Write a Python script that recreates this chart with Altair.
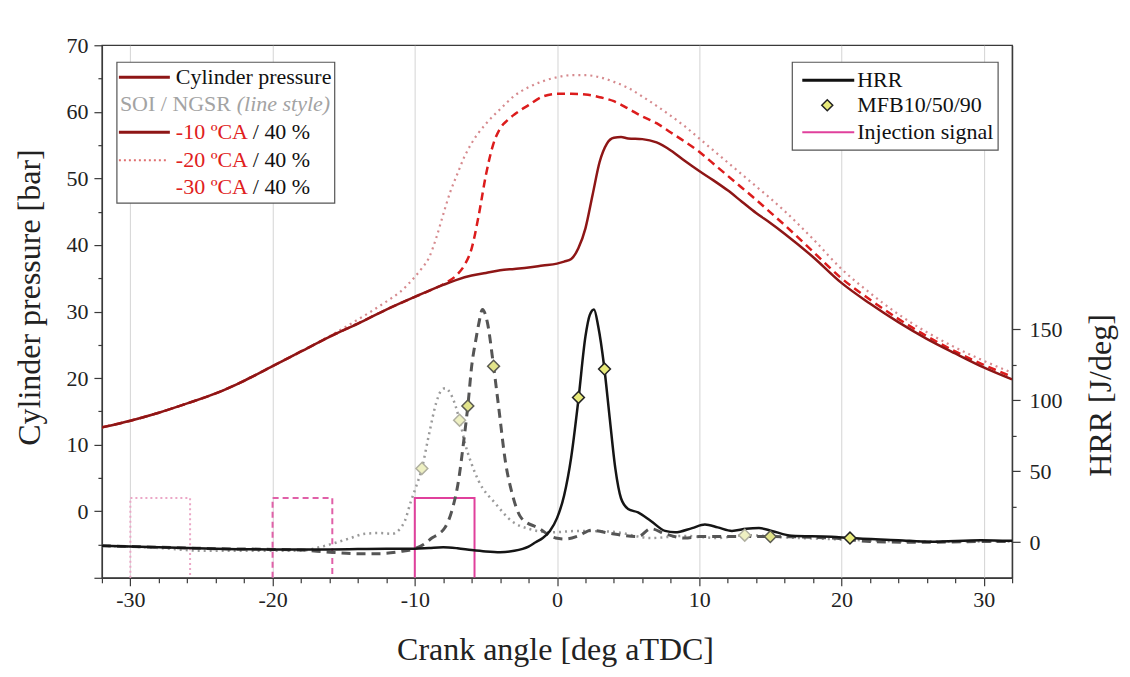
import altair as alt
import pandas as pd

# ---------------- data ----------------
# Cylinder pressure [bar], SOI -10 (solid dark red)
x_p10 = [-32, -30, -28, -26, -24, -22, -20, -18, -16, -14, -12, -10, -8, -7, -6, -5, -4, -3, -2, -1, 0,
         0.5, 1.0, 1.5, 2.0, 2.5, 3.0, 3.5, 4.0, 4.5, 5, 6, 7, 8, 9, 10, 11, 12, 13, 14, 15, 16, 18, 20,
         22, 24, 26, 28, 30, 32]
p10 = [12.6, 13.6, 14.8, 16.2, 17.7, 19.6, 21.8, 24.0, 26.2, 28.2, 30.3, 32.2, 34.0, 34.8, 35.4, 35.8,
       36.2, 36.4, 36.6, 36.9, 37.2, 37.5, 37.9, 39.5, 42.5, 47.5, 52.5, 55.2, 56.1, 56.2, 56.0, 55.9,
       55.4, 54.2, 52.6, 51.1, 49.7, 48.2, 46.5, 44.8, 43.3, 41.7, 38.2, 34.3, 31.2, 28.4, 25.9, 23.7,
       21.6, 19.8]

# SOI -20 (dashed red)
x_p20 = [-32, -30, -28, -26, -24, -22, -20, -18, -16, -14, -12, -10, -9, -8, -7, -6.5, -6, -5.5, -5,
         -4.5, -4, -3.5, -3, -2, -1, 0, 1, 2, 3, 4, 5, 6, 7, 8, 9, 10, 11, 12, 13, 14, 15, 16, 18, 20,
         22, 24, 26, 28, 30, 32]
p20 = [12.6, 13.6, 14.8, 16.2, 17.7, 19.6, 21.8, 24.0, 26.2, 28.2, 30.3, 32.2, 33.1, 34.1, 35.6, 37.0,
       39.5, 44.5, 50.5, 55.0, 57.5, 58.7, 59.6, 61.0, 62.3, 62.7, 62.7, 62.6, 62.2, 61.6, 60.5, 59.3,
       58.3, 56.9, 55.5, 54.0, 52.2, 50.4, 48.6, 46.8, 44.9, 43.0, 39.0, 35.0, 31.8, 28.9, 26.3, 24.0,
       22.0, 20.2]

# SOI -30 (dotted rose)
x_p30 = [-32, -30, -28, -26, -24, -22, -20, -18, -16, -15, -14, -13, -12, -11, -10, -9.5, -9, -8.5, -8,
         -7.5, -7, -6.5, -6, -5, -4, -3, -2, -1, 0, 1, 2, 3, 4, 5, 6, 7, 8, 9, 10, 11, 12, 13, 14, 15,
         16, 18, 20, 22, 24, 26, 28, 30, 32]
p30 = [12.6, 13.6, 14.8, 16.2, 17.7, 19.6, 21.8, 24.0, 26.3, 27.5, 28.8, 30.1, 31.5, 33.0, 35.2, 36.5,
       38.1, 41.0, 44.6, 48.0, 50.7, 53.3, 55.3, 58.2, 60.4, 62.4, 63.7, 64.6, 65.2, 65.5, 65.5, 65.2,
       64.5, 63.6, 62.3, 60.9, 59.4, 57.8, 56.0, 54.2, 52.4, 50.6, 48.8, 47.0, 45.1, 40.9, 36.4, 32.8,
       29.6, 26.9, 24.6, 22.6, 20.8]

# Heat release rate [J/deg]
x_h10 = [-32, -28, -24, -20, -16, -12, -10, -9, -8, -7, -6, -5, -4, -3, -2, -1.5, -1, -0.5, 0, 0.5,
         1.0, 1.5, 2.0, 2.3, 2.6, 2.9, 3.3, 3.7, 4.1, 4.5, 5.0, 5.7, 6.6, 7.6, 8.3, 9.5, 10.4, 11.3,
         12.3, 13.3, 14.2, 15.1, 16.5, 19.3, 20.6, 24, 26.3, 29.8, 32]
h10 = [-2.5, -3.5, -4.5, -5, -5, -4.5, -4.5, -4, -3.5, -4.2, -5.5, -6.5, -7, -6, -3, 0, 3, 8, 17, 33,
       60, 100, 145, 160, 164, 152, 125, 88, 52, 31, 23.5, 21, 15, 8, 7, 10, 12.5, 10.5, 8, 9.5, 10,
       8, 4.6, 3.9, 3, 1.5, 0.4, 1.5, 1]

x_h20 = [-32, -28, -24, -20, -18, -16, -14, -12.5, -11, -10, -9.3, -8.8, -8.3, -7.9, -7.4, -6.9, -6.6,
         -6.27, -6.0, -5.7, -5.5, -5.24, -4.9, -4.46, -4.1, -3.6, -3.2, -2.5, -1.3, -0.1, 0.6, 1.5, 2.4,
         3.9, 5.7, 6.6, 7.6, 9.0, 10, 13, 15, 18, 20, 22, 26, 30, 32]
h20 = [-2.5, -3.5, -4.5, -5, -5.5, -7, -8, -8, -6.5, -4.5, -1, 3, 6, 10, 22, 45, 68, 96, 124, 143, 154,
       164, 155, 124, 95, 55, 36, 17, 10, 3, 2.3, 4.5, 8.5, 6, 4, 9.5, 6, 3, 4, 4, 4, 3.5, 2.5, 0.5, 0,
       0.5, 0.5]

x_h30 = [-32, -28, -25, -22, -20, -18.2, -16.5, -15.8, -14.5, -13.5, -12.5, -11.6, -11, -10.7, -10.3,
         -9.95, -9.5, -9.0, -8.5, -8.2, -7.86, -7.4, -6.85, -6.45, -6.0, -5.5, -4.3, -3.2, -2.0, -0.4,
         1.5, 3.9, 6.6, 9.0, 11.3, 13.2, 16, 20, 25, 30, 32]
h30 = [-2.5, -4, -6, -6, -6, -6, -3, -1, 3, 6, 6.5, 6, 10, 15, 28, 38, 52, 76, 98, 106, 108.5, 103, 86,
       69, 55, 43, 27, 15, 9.5, 7, 8, 7.4, 3, 4.5, 3, 5, 3.5, 2, 0.5, 0.5, 0.5]

# MFB10/50/90 markers (crank angle, HRR)
mfb10_x = [1.51, 3.34, 20.6]
mfb10_h = [102, 122, 3]
mfb20_x = [-6.27, -4.46, 15.0]
mfb20_h = [96, 124, 4]
mfb30_x = [-9.5, -6.85, 13.2]
mfb30_h = [52, 86, 5]

# Injection signal (start, end of pulse) and its level on the pressure axis
inj10 = [-10.0, -5.8]
inj20 = [-20.0, -15.8]
inj30 = [-30.0, -25.8]
inj_level = [-10, 2]

FONT = "Liberation Serif"
W, H = 911, 533

# ---------------- scales / axes ----------------
x_axis = alt.Axis(
    values=list(range(-32, 33, 2)),
    labelExpr="datum.value % 10 === 0 ? '' + datum.value : ''",
    tickSize={"condition": {"test": "datum.value % 10 === 0", "value": 8}, "value": 5},
    grid=True,
    gridColor="#d4d4d4",
    gridWidth=1,
    gridOpacity={"condition": {"test": "datum.value % 10 === 0 && abs(datum.value) < 32", "value": 1}, "value": 0},
    title="Crank angle [deg aTDC]",
    titleX=W / 2 - 2,
    titleY=72,
    titleAlign="center",
    titleBaseline="middle",
    labelPadding=4,
)
X = alt.X("x:Q", scale=alt.Scale(domain=[-32, 32], nice=False, zero=False), axis=x_axis)

yp_axis = alt.Axis(
    orient="left",
    values=list(range(-10, 71, 5)),
    labelExpr="datum.value % 10 === 0 && datum.value >= 0 ? '' + datum.value : ''",
    tickSize={"condition": {"test": "datum.value % 10 === 0", "value": 8}, "value": 4},
    grid=False,
    title="Cylinder pressure [bar]",
    titleX=-72,
    titleY=252,
    titleAngle=270,
    titleAlign="center",
    titleBaseline="middle",
    labelPadding=6,
)
YP = alt.Y("p:Q", scale=alt.Scale(domain=[-10, 70], nice=False, zero=False), axis=yp_axis)

yh_axis = alt.Axis(
    orient="right",
    values=list(range(0, 151, 25)),
    labelExpr="datum.value % 50 === 0 ? '' + datum.value : ''",
    tickSize={"condition": {"test": "datum.value % 50 === 0", "value": 8}, "value": 4},
    grid=False,
    title="HRR [J/deg]",
    titleX=88,
    titleY=350,
    titleAngle=270,
    titleAlign="center",
    titleBaseline="middle",
    labelPadding=9,
)
YH = alt.Y("h:Q", scale=alt.Scale(domain=[-25, 350], nice=False, zero=False), axis=yh_axis)


def line(xs, ys, field, Y, color, width, dash=None, opacity=1.0):
    df = pd.DataFrame({"x": xs, field: ys})
    kw = dict(color=color, strokeWidth=width, interpolate="monotone", clip=True, opacity=opacity)
    if dash:
        kw["strokeDash"] = dash
    return alt.Chart(df).mark_line(**kw).encode(x=X, y=Y)


def injection(se, color, dash=None):
    df = pd.DataFrame({
        "x": [se[0], se[0], se[1], se[1]],
        "p": [inj_level[0], inj_level[1], inj_level[1], inj_level[0]],
        "i": [0, 1, 2, 3],
    })
    kw = dict(color=color, strokeWidth=2, clip=True)
    if dash:
        kw["strokeDash"] = dash
    return alt.Chart(df).mark_line(**kw).encode(x=X, y=YP, order="i:Q")


def diamonds(xs, hs, fill, stroke, opacity=1.0):
    df = pd.DataFrame({"x": xs, "h": hs})
    return alt.Chart(df).mark_point(shape="diamond", filled=True, fill=fill, stroke=stroke,
                                    strokeWidth=1.5, size=140, opacity=opacity).encode(x=X, y=YH)


DARKRED = "#8e1616"
RED = "#dc1c1c"
ROSE = "#d68a8e"

pressure = alt.layer(
    injection(inj30, "#eba6c6", [2, 3]),
    injection(inj20, "#e060a8", [6, 4]),
    injection(inj10, "#e0409c"),
    line(x_p30, p30, "p", YP, ROSE, 2.2, [2, 4]),
    line(x_p20, p20, "p", YP, RED, 2.5, [8, 5]),
    line(x_p10, p10, "p", YP, DARKRED, 2.5),
)

# ---------------- custom legends (pixel positions) ----------------
dummy = pd.DataFrame({"a": [0]})


def txt(s, x, y, color="#111", style="normal"):
    return alt.Chart(dummy).mark_text(text=s, align="left", baseline="middle", font=FONT,
                                      fontSize=22, color=color, fontStyle=style).encode(
        x=alt.value(x), y=alt.value(y))


def lrule(x1, x2, y, color, width, dash=None):
    kw = dict(color=color, strokeWidth=width)
    if dash:
        kw["strokeDash"] = dash
    return alt.Chart(dummy).mark_rule(**kw).encode(x=alt.value(x1), x2=alt.value(x2), y=alt.value(y))


def box(x1, x2, y1, y2):
    return alt.Chart(dummy).mark_rect(fill="white", stroke="#555", strokeWidth=1.2).encode(
        x=alt.value(x1), x2=alt.value(x2), y=alt.value(y1), y2=alt.value(y2))


legend_left = [
    box(15, 233, 17, 158),
    lrule(17, 68, 32, DARKRED, 3),
    txt("Cylinder pressure", 74, 32),
    txt("SOI / NGSR", 18, 59, "#a3a3a3"),
    txt("(line style)", 135, 59, "#a3a3a3", "italic"),
    lrule(17, 68, 87, DARKRED, 3),
    txt("-10 ºCA", 74, 87, "#e02020"),
    txt("/ 40 %", 151, 87),
    lrule(17, 64, 115, "#e07070", 2, [2, 3]),
    txt("-20 ºCA", 74, 115, "#e02020"),
    txt("/ 40 %", 151, 115),
    txt("-30 ºCA", 74, 142, "#e02020"),
    txt("/ 40 %", 151, 142),
]

legend_right = [
    box(691, 897, 17, 105),
    lrule(701, 753, 35, "#111", 3),
    txt("HRR", 756, 35),
    alt.Chart(dummy).mark_point(shape="diamond", filled=True, fill="#e8ea7a", stroke="#222",
                                strokeWidth=1.5, size=120, opacity=1).encode(
        x=alt.value(726), y=alt.value(60)),
    txt("MFB10/50/90", 756, 60),
    lrule(701, 753, 87, "#e0409c", 2),
    txt("Injection signal", 756, 87),
]

hrr = alt.layer(
    line(x_h30, h30, "h", YH, "#9a9a9a", 2.5, [2, 4]),
    line(x_h20, h20, "h", YH, "#555555", 3, [9, 6]),
    line(x_h10, h10, "h", YH, "#151515", 2.5),
    diamonds(mfb30_x, mfb30_h, "#eef0c2", "#b0b0a0"),
    diamonds(mfb20_x, mfb20_h, "#e2e48a", "#5a5a50"),
    diamonds(mfb10_x, mfb10_h, "#e8ea7a", "#222222"),
    *legend_left,
    *legend_right,
)

chart = alt.layer(pressure, hrr).resolve_scale(y="independent").properties(
    width=W,
    height=H,
    autosize=alt.AutoSizeParams(type="none"),
    padding={"left": 94, "top": 37, "right": 110, "bottom": 90},
).configure_view(
    stroke="#3a3a3a", strokeWidth=1.3
).configure_axis(
    labelFont=FONT, labelFontSize=22, labelColor="#222",
    titleFont=FONT, titleFontSize=32, titleFontWeight="normal", titleColor="#222",
    domainColor="#3a3a3a", domainWidth=1.3, tickColor="#3a3a3a", tickWidth=1.2,
).configure_text(font=FONT)

chart.save("out.html", embed_options={"renderer": "svg", "actions": False})
